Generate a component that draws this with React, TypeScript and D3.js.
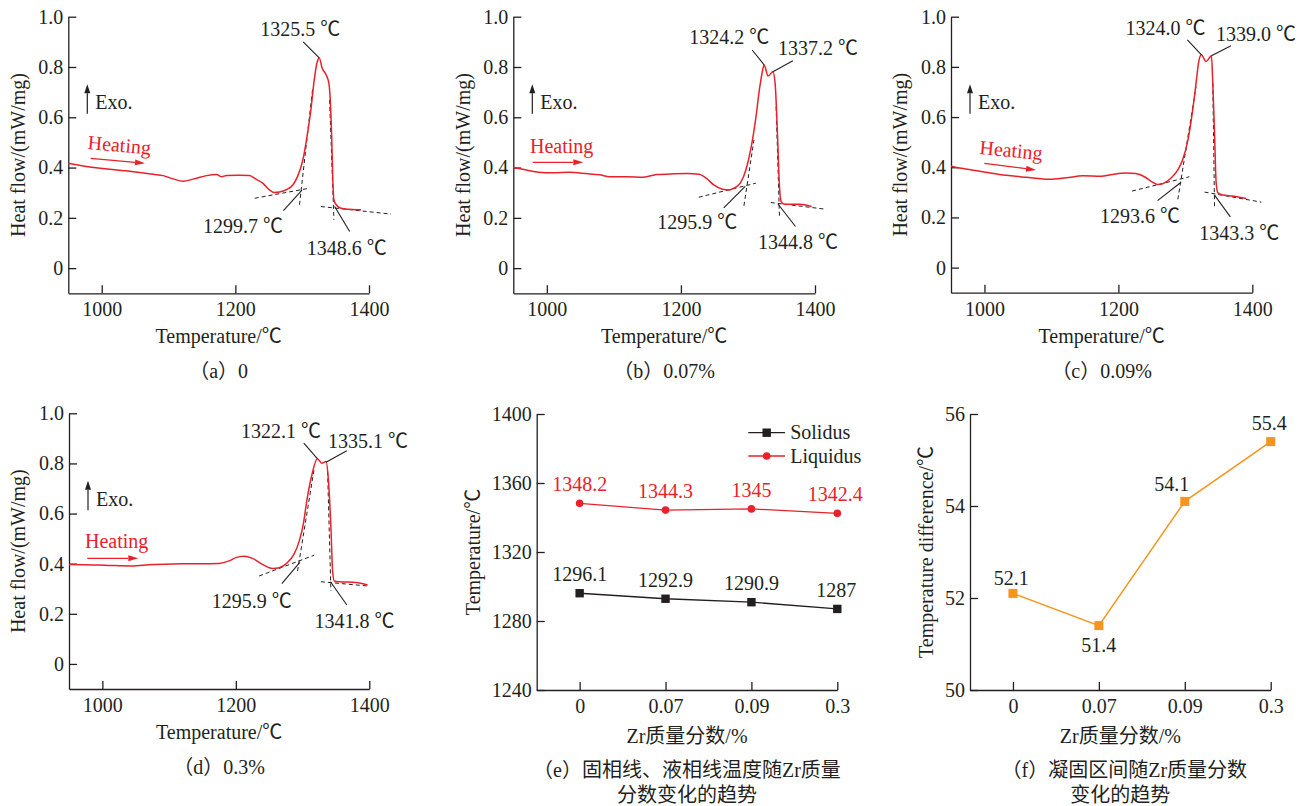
import React, { useEffect, useRef } from 'react';
import * as d3 from 'd3';

const FONT = '"Liberation Serif", "Times New Roman", "Noto Sans CJK SC", serif';
const INK = '#231f20';
const RED = '#e8212b';
const ORANGE = '#f7941d';

type Pt = [number, number];

// DSC heating curves: [temperature / ℃, heat flow / (mW/mg)]
const dscA: Pt[] = [
  [950, 0.417], [975, 0.405], [998, 0.397], [1012, 0.393], [1035, 0.387], [1057, 0.38], [1077, 0.373],
  [1092, 0.368], [1107, 0.355], [1122, 0.346], [1137, 0.354], [1157, 0.368], [1172, 0.372], [1179, 0.364],
  [1187, 0.368], [1205, 0.369], [1221, 0.368], [1231, 0.354], [1241, 0.338], [1251, 0.311], [1258, 0.301],
  [1266, 0.303], [1278, 0.314], [1286, 0.331], [1293, 0.364], [1301, 0.43], [1308, 0.536], [1313, 0.629],
  [1318, 0.748], [1322, 0.815], [1325.5, 0.836], [1330, 0.795], [1336, 0.768], [1340, 0.735], [1342, 0.669],
  [1344, 0.536], [1346, 0.338], [1347.5, 0.272], [1351, 0.252], [1358, 0.238], [1371, 0.234], [1388, 0.232],
];
const dscB: Pt[] = [
  [950, 0.4], [968, 0.391], [988, 0.381], [1008, 0.379], [1034, 0.381], [1059, 0.376], [1079, 0.371],
  [1094, 0.364], [1119, 0.364], [1144, 0.362], [1164, 0.372], [1189, 0.375], [1209, 0.376], [1227, 0.373],
  [1239, 0.355], [1249, 0.331], [1262, 0.314], [1272, 0.311], [1279, 0.318], [1289, 0.34], [1297, 0.391],
  [1304, 0.47], [1312, 0.603], [1317, 0.709], [1321, 0.775], [1324.2, 0.808], [1330, 0.764], [1337.2, 0.781],
  [1340.5, 0.735], [1344, 0.536], [1347, 0.325], [1349.5, 0.265], [1354, 0.254], [1377, 0.254], [1395, 0.245],
];
const dscC: Pt[] = [
  [950, 0.404], [972, 0.393], [1002, 0.38], [1032, 0.368], [1062, 0.36], [1097, 0.352], [1122, 0.358],
  [1147, 0.366], [1174, 0.364], [1191, 0.371], [1211, 0.377], [1226, 0.375], [1239, 0.362], [1249, 0.344],
  [1259, 0.331], [1269, 0.338], [1279, 0.358], [1289, 0.391], [1296, 0.43], [1304, 0.51], [1311, 0.629],
  [1316, 0.735], [1320, 0.821], [1324, 0.848], [1331, 0.821], [1339, 0.844], [1341, 0.735], [1343.6, 0.536],
  [1346, 0.338], [1348.6, 0.298], [1356, 0.289], [1371, 0.285], [1391, 0.275],
];
const dscD: Pt[] = [
  [950, 0.397], [975, 0.396], [1010, 0.393], [1045, 0.391], [1070, 0.396], [1105, 0.399], [1145, 0.4],
  [1175, 0.401], [1190, 0.411], [1200, 0.424], [1212, 0.43], [1225, 0.421], [1240, 0.397], [1255, 0.381],
  [1265, 0.384], [1277, 0.404], [1287, 0.437], [1295, 0.49], [1301, 0.556], [1307, 0.662], [1314, 0.755],
  [1322.1, 0.819], [1329, 0.801], [1335.1, 0.808], [1338.5, 0.742], [1342.5, 0.543], [1345, 0.371],
  [1347.5, 0.331], [1355, 0.328], [1380, 0.325], [1397.5, 0.315],
];

// dashed tangent constructions (endpoints in data units)
const tangentsA: Pt[][] = [[[1229, 0.278], [1311, 0.318]], [[1296, 0.252], [1316, 0.722]], [[1341, 0.669], [1347.5, 0.192]], [[1328, 0.245], [1433, 0.215]]];
const tangentsB: Pt[][] = [[[1226.6, 0.282], [1311.8, 0.338]], [[1294, 0.248], [1309, 0.51]], [[1342, 0.642], [1347, 0.205]], [[1334, 0.261], [1417, 0.234]]];
const tangentsC: Pt[][] = [[[1220.4, 0.305], [1306, 0.362]], [[1288.8, 0.272], [1316, 0.722]], [[1341, 0.735], [1343.6, 0.245]], [[1328.7, 0.301], [1413.5, 0.261]]];
const tangentsD: Pt[][] = [[[1235, 0.351], [1317.5, 0.434]], [[1292.5, 0.371], [1317.5, 0.781]], [[1337.5, 0.768], [1342.5, 0.291]], [[1327.5, 0.328], [1397.5, 0.311]]];

// characteristic temperatures (℃) and the heat flow where the leader touches
const marksA: Pt[] = [[1325.5, 0.836], [1299.7, 0.31], [1348.6, 0.245]];
const marksB: Pt[] = [[1324.2, 0.808], [1337.2, 0.781], [1295.9, 0.325], [1344.8, 0.255]];
const marksC: Pt[] = [[1324.0, 0.848], [1339.0, 0.844], [1293.6, 0.34], [1343.3, 0.29]];
const marksD: Pt[] = [[1322.1, 0.819], [1335.1, 0.805], [1295.9, 0.405], [1341.8, 0.328]];

// summary panels
const zrContent = ['0', '0.07', '0.09', '0.3'];
const solidus = [1296.1, 1292.9, 1290.9, 1287];
const liquidus = [1348.2, 1344.3, 1345, 1342.4];
const tempDiff = [52.1, 51.4, 54.1, 55.4];

// leader offsets (px) for the marks: [leaderDx, leaderDy, textDx, textDy]
const offA = [[-16, -16, -19, -21.5], [-18.6, 20.4, -59, 43], [15, 25, 12, 48]];
const offB = [[-12, -15, -35, -20.5], [20, -11, 45, -17], [-21.5, 21.5, -48, 43], [17.5, 22.5, 20, 45]];
const offC = [[-14, -15, -36, -20], [19.5, -10, 44.5, -15], [-23.5, 18.3, -41, 40.3], [16, 22, 25, 44.7]];
const offD = [[-13.5, -15.5, -36.4, -20.6], [20.8, -11.4, 42, -14], [-18, 21.3, -48, 45.3], [16.4, 23.3, 24, 46]];

const dscPanels = [
  { left: 68.3, right: 369, top: 16.7, bottom: 293.3, data: dscA, tang: tangentsA, marks: marksA, off: offA, cap: '（a）0',
    heat: { x: 19, y: 132.3, rot: 5, a: [22.4, 141.6, 76.7, 146.6] } },
  { left: 513.3, right: 815, top: 16.7, bottom: 293.3, data: dscB, tang: tangentsB, marks: marksB, off: offB, cap: '（b）0.07%',
    heat: { x: 16.7, y: 136, rot: 0, a: [19.4, 145.6, 70, 145.6] } },
  { left: 951, right: 1252.3, top: 16.7, bottom: 292.7, data: dscC, tang: tangentsC, marks: marksC, off: offC, cap: '（c）0.09%',
    heat: { x: 28, y: 137.3, rot: 5.5, a: [33.3, 146.6, 85, 153.3] } },
  { left: 69, right: 369.3, top: 413.3, bottom: 689, data: dscD, tang: tangentsD, marks: marksD, off: offD, cap: '（d）0.3%',
    heat: { x: 16, y: 134.4, rot: 0, a: [18.3, 145, 69.3, 145] } },
];

function arrow(g: any, x1: number, y1: number, x2: number, y2: number, color: string, len = 10, half = 3) {
  const ang = Math.atan2(y2 - y1, x2 - x1);
  const bx = x2 - Math.cos(ang) * len;
  const by = y2 - Math.sin(ang) * len;
  g.append('line').attr('x1', x1).attr('y1', y1).attr('x2', bx).attr('y2', by)
    .attr('stroke', color).attr('stroke-width', 1.2);
  const px = -Math.sin(ang) * half;
  const py = Math.cos(ang) * half;
  g.append('path')
    .attr('d', `M${x2},${y2}L${bx + px},${by + py}L${bx - px},${by - py}Z`)
    .attr('fill', color);
}

function styleAxis(ax: any) {
  ax.attr('font-family', FONT).attr('font-size', 20);
  ax.selectAll('path').attr('stroke', INK).attr('stroke-width', 1.3);
  ax.selectAll('line').attr('stroke', INK).attr('stroke-width', 1.3);
  ax.selectAll('text').attr('fill', INK);
}

function text(g: any, x: number, y: number, s: string, anchor = 'middle', color = INK) {
  return g.append('text').attr('x', x).attr('y', y).attr('text-anchor', anchor)
    .attr('font-family', FONT).attr('font-size', 20).attr('fill', color).text(s);
}

const App: React.FC = () => {
  const svgRef = useRef<SVGSVGElement | null>(null);

  useEffect(() => {
    if (!svgRef.current) return;
    const svg = d3.select(svgRef.current);
    svg.selectAll('*').remove();
    const intFmt = d3.format('d');

    // four DSC panels
    dscPanels.forEach((p) => {
      const g = svg.append('g');
      const x = d3.scaleLinear().domain([950, 1400]).range([p.left, p.right]);
      const y = d3.scaleLinear().domain([-0.1, 1.0]).range([p.bottom, p.top]);

      const xa = g.append('g').attr('transform', `translate(0,${p.bottom})`)
        .call(d3.axisBottom(x).tickValues([1000, 1200, 1400]).tickFormat(intFmt as any)
          .tickSizeInner(-8).tickSizeOuter(0).tickPadding(9));
      styleAxis(xa);
      const ya = g.append('g').attr('transform', `translate(${p.left},0)`)
        .call(d3.axisLeft(y).tickValues([0, 0.2, 0.4, 0.6, 0.8, 1.0]).tickSizeInner(-8).tickSizeOuter(0).tickPadding(5)
          .tickFormat((d: any) => (d === 0 ? '0' : d3.format('.1f')(d))));
      styleAxis(ya);

      // tangents
      p.tang.forEach((seg) => {
        g.append('line')
          .attr('x1', x(seg[0][0])).attr('y1', y(seg[0][1]))
          .attr('x2', x(seg[1][0])).attr('y2', y(seg[1][1]))
          .attr('stroke', INK).attr('stroke-width', 1).attr('stroke-dasharray', '4,3');
      });

      // curve
      const line = d3.line<Pt>().x((d) => x(d[0])).y((d) => y(d[1])).curve(d3.curveMonotoneX);
      g.append('path').datum(p.data).attr('d', line).attr('fill', 'none')
        .attr('stroke', RED).attr('stroke-width', 1.5);

      // annotations
      p.marks.forEach((m, i) => {
        const ax = x(m[0]);
        const ay = y(m[1]);
        const o = p.off[i];
        g.append('line').attr('x1', ax).attr('y1', ay).attr('x2', ax + o[0]).attr('y2', ay + o[1])
          .attr('stroke', INK).attr('stroke-width', 1.1);
        text(g, ax + o[2], ay + o[3], `${m[0].toFixed(1)} ℃`);
      });

      // Exo. marker
      arrow(g, p.left + 19, p.top + 97, p.left + 19, p.top + 67.5, INK, 9, 3);
      text(g, p.left + 27, p.top + 92.5, 'Exo.', 'start');

      // Heating
      const h = p.heat;
      text(g, p.left + h.x, p.top + h.y, 'Heating', 'start', RED)
        .attr('transform', `rotate(${h.rot},${p.left + h.x},${p.top + h.y})`);
      arrow(g, p.left + h.a[0], p.top + h.a[1], p.left + h.a[2], p.top + h.a[3], RED, 10, 3);

      // titles
      text(g, p.left - 43.5, (p.top + p.bottom) / 2, 'Heat flow/(mW/mg)')
        .attr('transform', `rotate(-90,${p.left - 43.5},${(p.top + p.bottom) / 2})`);
      text(g, (p.left + p.right) / 2, p.bottom + 50, 'Temperature/℃');
      text(g, (p.left + p.right) / 2, p.bottom + 85, p.cap);
    });

    // panel e: solidus / liquidus
    {
      const left = 536.7, right = 837.3, top = 414, bottom = 690;
      const g = svg.append('g');
      const x = d3.scaleLinear().domain([-0.5, 3]).range([left, right]);
      const y = d3.scaleLinear().domain([1240, 1400]).range([bottom, top]);
      const xa = g.append('g').attr('transform', `translate(0,${bottom})`)
        .call(d3.axisBottom(x).tickValues([0, 1, 2, 3]).tickFormat((d: any) => zrContent[d])
          .tickSizeInner(-8).tickSizeOuter(0).tickPadding(9));
      styleAxis(xa);
      const ya = g.append('g').attr('transform', `translate(${left},0)`)
        .call(d3.axisLeft(y).tickValues([1240, 1280, 1320, 1360, 1400]).tickFormat(intFmt as any)
          .tickSizeInner(-8).tickSizeOuter(0).tickPadding(5));
      styleAxis(ya);

      const line = d3.line<number>().x((_, i) => x(i)).y((d) => y(d));
      g.append('path').datum(solidus).attr('d', line).attr('fill', 'none').attr('stroke', INK).attr('stroke-width', 1.3);
      g.append('path').datum(liquidus).attr('d', line).attr('fill', 'none').attr('stroke', RED).attr('stroke-width', 1.3);
      solidus.forEach((v, i) => {
        g.append('rect').attr('x', x(i) - 4.2).attr('y', y(v) - 4.2).attr('width', 8.4).attr('height', 8.4).attr('fill', INK);
        text(g, x(i) + (i === 3 ? -1 : 0), y(v) - 12, String(v));
      });
      liquidus.forEach((v, i) => {
        g.append('circle').attr('cx', x(i)).attr('cy', y(v)).attr('r', 3.8).attr('fill', RED);
        text(g, x(i) + (i === 3 ? -2 : 0), y(v) - 12, String(v), 'middle', RED);
      });

      // legend
      const lg = g.append('g');
      [['Solidus', INK, 'rect'], ['Liquidus', RED, 'circle']].forEach((d, i) => {
        const ly = top + 18.7 + i * 23.3;
        lg.append('line').attr('x1', left + 211.6).attr('x2', left + 248.3).attr('y1', ly).attr('y2', ly)
          .attr('stroke', d[1]).attr('stroke-width', 1.3);
        if (d[2] === 'rect') {
          lg.append('rect').attr('x', left + 230 - 4.2).attr('y', ly - 4.2).attr('width', 8.4).attr('height', 8.4).attr('fill', d[1]);
        } else {
          lg.append('circle').attr('cx', left + 230).attr('cy', ly).attr('r', 3.8).attr('fill', d[1]);
        }
        text(lg, left + 253.5, ly + 6.7, d[0], 'start');
      });

      text(g, left - 57, (top + bottom) / 2, 'Temperature/℃')
        .attr('transform', `rotate(-90,${left - 57},${(top + bottom) / 2})`);
      text(g, (left + right) / 2, bottom + 53, 'Zr质量分数/%');
      text(g, (left + right) / 2, bottom + 86.7, '（e）固相线、液相线温度随Zr质量');
      text(g, (left + right) / 2, bottom + 111.7, '分数变化的趋势');
    }

    // panel f: solidification interval
    {
      const left = 970, right = 1270.7, top = 414, bottom = 690;
      const g = svg.append('g');
      const x = d3.scaleLinear().domain([-0.5, 3]).range([left, right]);
      const y = d3.scaleLinear().domain([50, 56]).range([bottom, top]);
      const xa = g.append('g').attr('transform', `translate(0,${bottom})`)
        .call(d3.axisBottom(x).tickValues([0, 1, 2, 3]).tickFormat((d: any) => zrContent[d])
          .tickSizeInner(-8).tickSizeOuter(0).tickPadding(9));
      styleAxis(xa);
      const ya = g.append('g').attr('transform', `translate(${left},0)`)
        .call(d3.axisLeft(y).tickValues([50, 52, 54, 56]).tickFormat(intFmt as any)
          .tickSizeInner(-8).tickSizeOuter(0).tickPadding(5));
      styleAxis(ya);

      const line = d3.line<number>().x((_, i) => x(i)).y((d) => y(d));
      g.append('path').datum(tempDiff).attr('d', line).attr('fill', 'none').attr('stroke', ORANGE).attr('stroke-width', 1.5);
      const labelOff = [[-1.6, -8.5], [0, 26], [-13, -10.5], [-1.4, -11.6]];
      tempDiff.forEach((v, i) => {
        g.append('rect').attr('x', x(i) - 4.5).attr('y', y(v) - 4.5).attr('width', 9).attr('height', 9).attr('fill', ORANGE);
        text(g, x(i) + labelOff[i][0], y(v) + labelOff[i][1], String(v));
      });

      text(g, left - 37, (top + bottom) / 2, 'Temperature difference/℃')
        .attr('transform', `rotate(-90,${left - 37},${(top + bottom) / 2})`);
      text(g, (left + right) / 2, bottom + 53, 'Zr质量分数/%');
      text(g, (left + right) / 2 + 4, bottom + 86.7, '（f）凝固区间随Zr质量分数');
      text(g, (left + right) / 2, bottom + 111.7, '变化的趋势');
    }
  }, []);

  return (
    <svg ref={svgRef} width={1301} height={806}
      style={{ position: 'absolute', left: 0, top: 0, background: '#fff' }} />
  );
};

export default App;
